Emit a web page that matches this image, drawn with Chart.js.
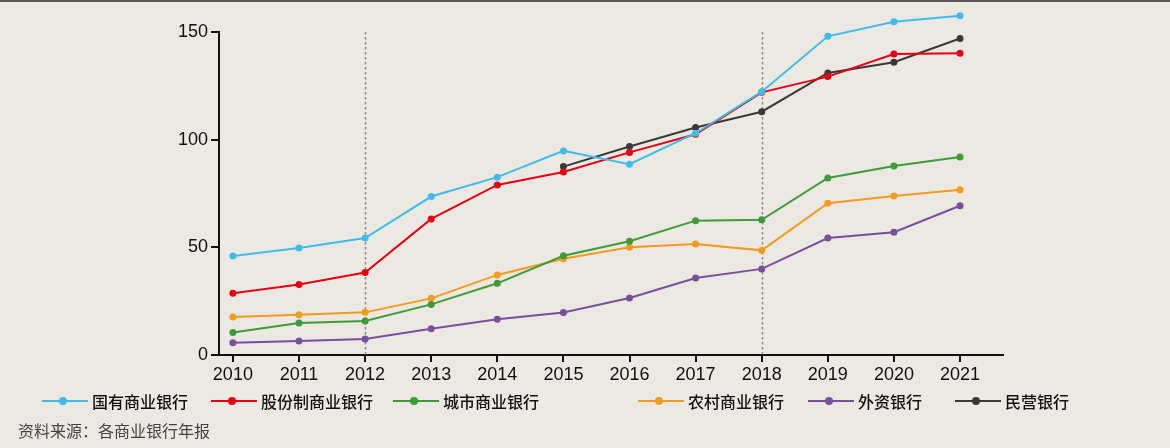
<!DOCTYPE html>
<html><head><meta charset="utf-8">
<script src="https://cdn.jsdelivr.net/npm/chart.js@4.4.1/dist/chart.umd.min.js"></script>
<style>
html,body{margin:0;padding:0;background:#ECE9E3;}
#wrap{position:relative;width:1170px;height:448px;overflow:hidden;background:#ECE9E3;font-family:"Liberation Sans","Noto Sans CJK SC",sans-serif;}
#topbar{position:absolute;left:0;top:0;width:1170px;height:2px;background:#555;}
canvas{position:absolute;left:0;top:0;}
.lg{position:absolute;top:390px;height:22px;display:flex;align-items:center;font-family:"Noto Sans CJK SC",sans-serif;font-size:16px;font-weight:500;color:#111;white-space:nowrap;}
.lg .ln{position:relative;width:46px;height:2px;margin-right:4px;}
.lg .dt{position:absolute;left:17px;top:-3px;width:8px;height:8px;border-radius:50%;}
#src{position:absolute;left:18px;top:418px;font-family:"Noto Sans CJK SC",sans-serif;font-size:16px;color:#444;}
</style></head>
<body><div id="wrap"><canvas id="c" width="1170" height="448"></canvas><div id="topbar"></div><div id="legend"></div><div id="src">资料来源：各商业银行年报</div></div>
<script>
const years = [2010,2011,2012,2013,2014,2015,2016,2017,2018,2019,2020,2021];
const yTicks = [0,50,100,150];
const guo = [46,49.7,54.3,73.6,82.6,94.8,88.6,103,122.3,148,154.8,157.6];
const gufen = [28.7,32.7,38.3,63.2,79,85,94.1,102.5,122,129.3,139.8,140.1];
const chengshi = [10.4,14.9,15.8,23.5,33.3,46.1,52.8,62.4,62.8,82.2,87.8,92];
const nongcun = [17.6,18.7,19.8,26.3,37.2,44.7,50,51.6,48.6,70.5,73.8,76.8];
const waizi = [5.7,6.5,7.4,12.2,16.6,19.7,26.5,35.8,40,54.3,57,69.3];
const minying = [null,null,null,null,null,87.5,96.8,105.7,113,131,136,147];
const names = ["国有商业银行","股份制商业银行","城市商业银行","农村商业银行","外资银行","民营银行"];
const colors = ["#3FBDEA","#E60012","#3F9A3A","#F39C1E","#7A4F9E","#3B3838"];
const series = [guo,gufen,chengshi,nongcun,waizi,minying];
const markYears = [2012,2018];

const datasets = series.map((s,i)=>({
  label:names[i],
  data:years.map((y,j)=>({x:y,y:s[j]})),
  borderColor:colors[i],backgroundColor:colors[i],
  borderWidth:2,pointRadius:3.5,pointHoverRadius:3.5,pointBorderWidth:0,
  tension:0,clip:false,spanGaps:false
}));

const markLines = {
  id:'markLines',
  beforeDatasetsDraw(chart){
    const {ctx,scales:{x,y}} = chart;
    ctx.save();
    ctx.strokeStyle='#8a8a8a';ctx.lineWidth=1.5;ctx.setLineDash([2.5,2.5]);
    markYears.forEach(v=>{
      const px = Math.round(x.getPixelForValue(v))+0.5;
      ctx.beginPath();ctx.moveTo(px,y.getPixelForValue(150));ctx.lineTo(px,y.getPixelForValue(0));ctx.stroke();
    });
    ctx.setLineDash([]);
    ctx.strokeStyle='#111';ctx.lineWidth=2;
    const ax = x.left;
    ctx.beginPath();ctx.moveTo(ax,y.getPixelForValue(150)-1);ctx.lineTo(ax,y.getPixelForValue(0)+1);ctx.stroke();
    ctx.restore();
  }
};

new Chart(document.getElementById('c'),{
  type:'line',
  data:{datasets},
  options:{
    responsive:false,animation:false,
    layout:{padding:{left:0,right:167,top:10.5,bottom:0}},
    plugins:{legend:{display:false},tooltip:{enabled:false}},
    scales:{
      x:{type:'linear',min:2009.79,max:2021.65,
        afterBuildTicks(s){s.ticks=years.map(v=>({value:v}));},
        afterFit(s){s.height=93;},
        border:{display:true,color:'#111',width:2},
        grid:{display:true,drawOnChartArea:false,tickLength:7,color:'#111',lineWidth:2},
        ticks:{color:'#111',font:{family:'Liberation Sans',size:18},padding:2,maxRotation:0,autoSkip:false,callback:v=>String(v)}
      },
      y:{type:'linear',min:0,max:160,
        afterBuildTicks(s){s.ticks=yTicks.map(v=>({value:v}));},
        afterFit(s){s.width=219;s.paddingTop=0;s.paddingBottom=0;},
        border:{display:false},
        grid:{display:true,drawOnChartArea:false,tickLength:8,color:'#111',lineWidth:2},
        ticks:{color:'#111',font:{family:'Liberation Sans',size:18},padding:3}
      }
    }
  },
  plugins:[markLines]
});

const lgX = [[42,92],[211,261],[393,442],[638,690],[808,859],[955,1006]];
const lg = document.getElementById('legend');
names.forEach((n,i)=>{
  const d=document.createElement('div');d.className='lg';d.style.left=lgX[i][0]+'px';
  d.innerHTML='<span class="ln" style="background:'+colors[i]+'"><span class="dt" style="background:'+colors[i]+'"></span></span><span>'+n+'</span>';
  lg.appendChild(d);
});
</script></body></html>
